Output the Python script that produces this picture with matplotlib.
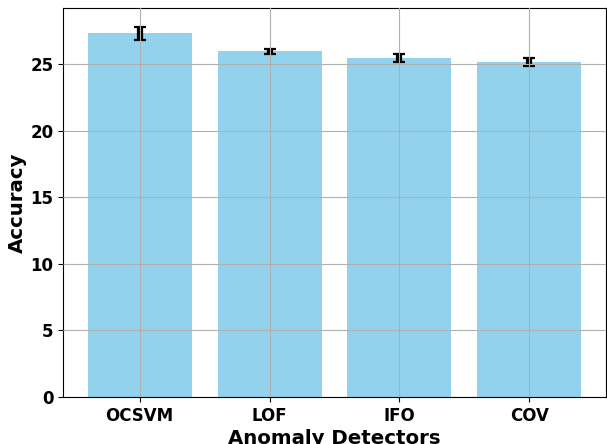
import matplotlib
matplotlib.use("Agg")
import matplotlib.pyplot as plt

detectors = ["OCSVM", "LOF", "IFO", "COV"]
accuracy = [27.32, 25.97, 25.45, 25.15]
errors = [0.50, 0.18, 0.27, 0.27]

fig = plt.figure(figsize=(6.07, 4.44), dpi=100)
ax = fig.add_axes([63/607, 47/444, 543/607, 389/444])
ax.bar(detectors, accuracy, yerr=errors, color="skyblue", alpha=0.9, width=0.8,
       capsize=4, error_kw=dict(elinewidth=4.5, capthick=1.6, ecolor="black"))
ax.grid(True, color="#b0b0b0", linewidth=0.8)
ax.set_axisbelow(False)
ax.set_xlabel("Anomaly Detectors", fontsize=14.2, fontweight="bold", labelpad=3)
ax.set_ylabel("Accuracy", fontsize=14.2, fontweight="bold", labelpad=2)
for lab in ax.get_xticklabels() + ax.get_yticklabels():
    lab.set_fontweight("bold")
    lab.set_fontsize(12)
fig.savefig("out.png", dpi=100)
